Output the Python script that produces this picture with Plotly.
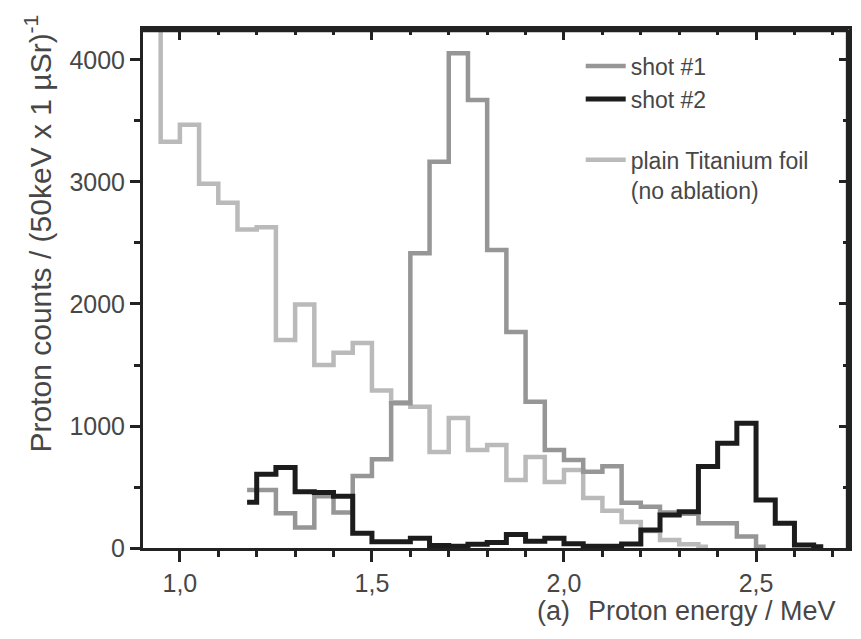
import plotly.graph_objects as go

# ---- data (bin centres in MeV, counts per 50 keV x 1 uSr) ----
ti_energy = [0.925, 0.975, 1.025, 1.075, 1.125, 1.175, 1.225, 1.275, 1.325, 1.375,
             1.425, 1.475, 1.525, 1.575, 1.625, 1.675, 1.725, 1.775, 1.825, 1.875,
             1.925, 1.975, 2.025, 2.075, 2.125, 2.175, 2.225, 2.275, 2.325, 2.375]
ti_counts = [4600, 3330, 3470, 2985, 2830, 2610, 2630, 1705, 1995, 1500,
             1600, 1680, 1290, 1195, 1158, 787, 1066, 803, 844, 557,
             746, 541, 640, 410, 305, 213, 140, 65, 30, 10]

shot1_energy = [1.175, 1.225, 1.275, 1.325, 1.375, 1.425, 1.475, 1.525, 1.575, 1.625,
                1.675, 1.725, 1.775, 1.825, 1.875, 1.925, 1.975, 2.025, 2.075, 2.125,
                2.175, 2.225, 2.275, 2.325, 2.375, 2.425, 2.475, 2.525]
shot1_counts = [475, 475, 284, 168, 425, 290, 590, 728, 1186, 2415,
                3165, 4055, 3672, 2443, 1770, 1199, 803, 721, 626, 670,
                370, 339, 290, 280, 202, 202, 95, 10]

shot2_energy = [1.175, 1.225, 1.275, 1.325, 1.375, 1.425, 1.475, 1.525, 1.575, 1.625,
                1.675, 1.725, 1.775, 1.825, 1.875, 1.925, 1.975, 2.025, 2.075, 2.125,
                2.175, 2.225, 2.275, 2.325, 2.375, 2.425, 2.475, 2.525, 2.575, 2.625,
                2.675]
shot2_counts = [375, 605, 660, 462, 455, 425, 120, 52, 52, 79,
                20, 15, 30, 45, 110, 55, 80, 35, 15, 15,
                33, 148, 270, 298, 667, 858, 1022, 393, 202, 25,
                10]

x_tickvals = [1.0, 1.5, 2.0, 2.5]
x_ticktext = ["1,0", "1,5", "2,0", "2,5"]
y_tickvals = [0, 1000, 2000, 3000, 4000]
y_ticktext = ["0", "1000", "2000", "3000", "4000"]

FONT = "Liberation Sans, Arial, Helvetica, sans-serif"
TXT = "#474747"
AX = "#222222"

fig = go.Figure()
fig.add_trace(go.Scatter(x=ti_energy, y=ti_counts, mode="lines", line_shape="hvh",
                         line=dict(color="#bababa", width=4.5),
                         name="plain Titanium foil<br>(no ablation)",
                         legendgroup="b", legendrank=3))
fig.add_trace(go.Scatter(x=shot1_energy, y=shot1_counts, mode="lines", line_shape="hvh",
                         line=dict(color="#969696", width=4.5),
                         name="shot #1", legendgroup="a", legendrank=1))
fig.add_trace(go.Scatter(x=shot2_energy, y=shot2_counts, mode="lines", line_shape="hvh",
                         line=dict(color="#1c1c1c", width=5),
                         name="shot #2", legendgroup="a", legendrank=2))
# carrier trace for the overlaid top/right tick axes
fig.add_trace(go.Scatter(x=[None], y=[None], xaxis="x2", yaxis="y2",
                         showlegend=False, hoverinfo="skip"))

xr = [0.904, 2.742]
yr = [0, 4254]

fig.update_layout(
    width=853, height=631,
    margin=dict(l=135, r=12, t=21, b=91),
    paper_bgcolor="white", plot_bgcolor="white",
    font=dict(family=FONT, size=24, color=TXT),
    showlegend=True,
    legend=dict(x=0.62, y=0.97, xanchor="left", yanchor="top",
                bgcolor="rgba(0,0,0,0)", font=dict(size=23, color=TXT),
                traceorder="grouped", tracegroupgap=28, valign="top",
                itemwidth=40),
    xaxis=dict(range=xr, showgrid=False, zeroline=False, automargin=False,
               showline=True, linecolor=AX, linewidth=3, mirror=True,
               ticks="outside", ticklen=11, tickwidth=3, tickcolor=AX,
               tickvals=x_tickvals, ticktext=x_ticktext,
               tickfont=dict(size=25, color=TXT),
               minor=dict(dtick=0.1, tick0=0, ticks="outside", ticklen=6,
                          tickwidth=3, tickcolor=AX)),
    yaxis=dict(range=yr, showgrid=False, zeroline=False, automargin=False,
               showline=True, linecolor=AX, linewidth=3, mirror=True,
               ticks="outside", ticklen=10, tickwidth=3, tickcolor=AX,
               tickvals=y_tickvals, ticktext=y_ticktext,
               tickfont=dict(size=25, color=TXT),
               minor=dict(dtick=500, tick0=0, ticks="outside", ticklen=6,
                          tickwidth=3, tickcolor=AX)),
    xaxis2=dict(range=xr, overlaying="x", side="top", anchor="y2", automargin=False,
                showgrid=False, zeroline=False, showline=False,
                ticks="inside", ticklen=11, tickwidth=3, tickcolor=AX,
                tickvals=x_tickvals, showticklabels=False,
                minor=dict(dtick=0.1, tick0=0, ticks="inside", ticklen=6,
                           tickwidth=3, tickcolor=AX)),
    yaxis2=dict(range=yr, overlaying="y", side="right", anchor="x2", automargin=False,
                showgrid=False, zeroline=False, showline=False,
                ticks="inside", ticklen=10, tickwidth=3, tickcolor=AX,
                tickvals=y_tickvals, showticklabels=False,
                minor=dict(dtick=500, tick0=0, ticks="inside", ticklen=6,
                           tickwidth=3, tickcolor=AX)),
    shapes=[
        dict(type="line", xref="paper", yref="paper", x0=0, x1=0.999, y0=0.997, y1=0.997,
             line=dict(color=AX, width=3.5), layer="above"),
        dict(type="line", xref="paper", yref="paper", x0=0.998, x1=0.998, y0=0, y1=0.999,
             line=dict(color=AX, width=3.5), layer="above"),
    ],
    annotations=[
        dict(text="Proton counts / (50keV x 1 µSr)<sup>-1</sup>", textangle=-90,
             xref="paper", yref="paper", x=-0.148, y=0.605,
             xanchor="center", yanchor="middle", showarrow=False,
             font=dict(size=30, color=TXT)),
        dict(text="Proton energy / MeV", xref="paper", yref="paper",
             x=0.985, y=-0.122, xanchor="right", yanchor="middle",
             showarrow=False, font=dict(size=27, color=TXT)),
        dict(text="(a)", xref="paper", yref="paper",
             x=0.581, y=-0.122, xanchor="center", yanchor="middle",
             showarrow=False, font=dict(size=27, color=TXT)),
    ],
)

fig.write_html("out.html")
